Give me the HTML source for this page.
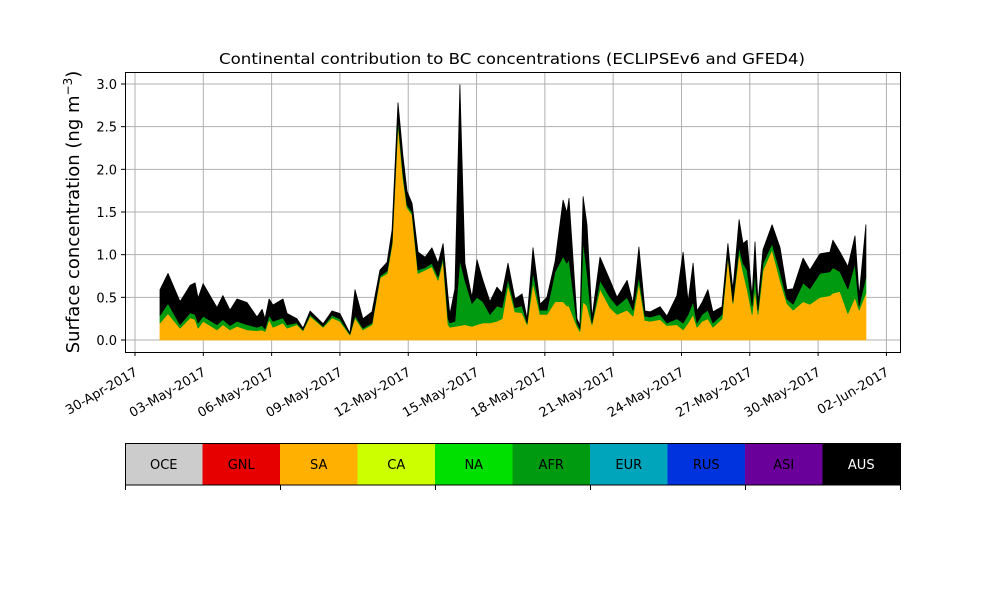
<!DOCTYPE html>
<html><head><meta charset="utf-8"><style>
html,body{margin:0;padding:0;background:#fff;}
svg{display:block;font-family:"DejaVu Sans","Liberation Sans",sans-serif;}
</style></head><body>
<svg id="chart" width="1000" height="600" viewBox="0 0 1000 600" xmlns="http://www.w3.org/2000/svg">
<rect x="0" y="0" width="1000" height="600" fill="#fff"/>
<text x="512" y="64" text-anchor="middle" font-size="15" textLength="586" lengthAdjust="spacingAndGlyphs">Continental contribution to BC concentrations (ECLIPSEv6 and GFED4)</text>
<text transform="translate(79,212) rotate(-90)" text-anchor="middle" font-size="18">Surface concentration (ng m<tspan dy="-7" font-size="12">−3</tspan><tspan dy="7">)</tspan></text>
<g id="grid"></g>
<g id="areas"></g>
<g id="ticks"></g>
<rect x="125.5" y="72.5" width="775" height="280" fill="none" stroke="#000" stroke-width="1"/>
<g id="legend"></g>
</svg>
<script>
const days = [1.10,1.45,1.98,2.42,2.64,2.77,2.99,3.60,3.86,4.17,4.48,4.92,5.36,5.58,5.71,5.89,6.06,6.50,6.68,7.11,7.38,7.69,8.26,8.65,9.00,9.44,9.66,10.01,10.41,10.76,11.07,11.29,11.55,11.77,11.95,12.17,12.43,12.74,13.04,13.31,13.53,13.75,13.83,14.05,14.27,14.49,14.80,15.02,15.28,15.59,15.90,16.12,16.38,16.69,17.00,17.22,17.48,17.79,18.09,18.45,18.80,18.97,19.06,19.41,19.54,19.68,19.85,20.07,20.42,20.86,21.17,21.61,21.87,22.13,22.40,22.62,23.06,23.36,23.80,24.07,24.29,24.51,24.68,24.90,25.16,25.38,25.78,26.04,26.26,26.53,26.70,26.88,27.10,27.23,27.36,27.58,27.98,28.33,28.63,28.90,29.34,29.64,30.08,30.52,30.65,30.96,31.31,31.62,31.80,32.10];
const sa = [.20,.31,.14,.26,.24,.14,.22,.12,.18,.12,.16,.12,.11,.12,.10,.24,.15,.20,.14,.18,.11,.28,.15,.26,.22,.06,.26,.12,.18,.73,.78,1.12,2.54,1.90,1.55,1.47,.78,.82,.86,.70,.94,.18,.15,.16,.17,.18,.16,.18,.20,.20,.22,.25,.65,.33,.32,.18,.67,.30,.30,.45,.45,.40,.40,.16,.10,.45,.40,.18,.60,.38,.30,.35,.28,.67,.23,.22,.24,.17,.18,.12,.20,.30,.15,.22,.25,.15,.25,.98,.43,1.02,.80,.60,.30,.60,.30,.82,1.06,.70,.43,.35,.45,.42,.50,.52,.55,.57,.31,.50,.35,.55];
const afr = [.09,.12,.04,.06,.06,.06,.06,.06,.06,.05,.06,.06,.04,.05,.03,.05,.07,.06,.04,.02,.01,.02,.01,.03,.03,.01,.03,.02,.02,.02,.03,.03,.06,.05,.03,.03,.04,.03,.04,.04,.04,.07,.05,.06,.77,.52,.27,.32,.25,.10,.18,.13,.07,.05,.08,.02,.13,.05,.05,.35,.53,.50,.55,.04,.03,.72,.40,.02,.10,.12,.10,.15,.07,.08,.05,.05,.06,.03,.07,.08,.10,.15,.05,.08,.10,.05,.05,.02,.02,.07,.10,.22,.10,.20,.05,.08,.07,.10,.05,.07,.22,.18,.28,.28,.30,.23,.29,.40,.05,.19];
const aus = [.30,.35,.27,.32,.37,.29,.38,.20,.28,.18,.26,.26,.12,.19,.12,.19,.19,.22,.13,.05,.02,.04,.03,.05,.06,.01,.30,.11,.13,.07,.10,.14,.18,.20,.16,.10,.21,.12,.18,.16,.15,.25,.10,.38,2.05,.20,.07,.44,.25,.15,.22,.17,.18,.10,.14,.05,.28,.07,.15,.12,.66,.59,.71,.05,.04,.51,.55,.06,.27,.20,.10,.20,.08,.34,.06,.06,.09,.08,.27,.83,.15,.45,.14,.14,.24,.13,.09,.13,.14,.32,.23,.35,.10,.35,.09,.16,.22,.28,.11,.18,.29,.22,.23,.23,.32,.23,.26,.32,.12,.61];
const yTicks = [0.0,0.5,1.0,1.5,2.0,2.5,3.0];
const xTickDays = [0,3,6,9,12,15,18,21,24,27,30,33];
const xTickLabels = ["30-Apr-2017","03-May-2017","06-May-2017","09-May-2017","12-May-2017","15-May-2017","18-May-2017","21-May-2017","24-May-2017","27-May-2017","30-May-2017","02-Jun-2017"];
const regions = ["OCE","GNL","SA","CA","NA","AFR","EUR","RUS","ASI","AUS"];
const regionColors = ["#cccccc","#e60000","#ffb000","#ccff00","#00e000","#009a10","#00a5bc","#0033dd","#6a0099","#000000"];

const NS="http://www.w3.org/2000/svg";
function xs(d){return 135+d*22.77;}
function ys(v){return 340-v*85.33;}
function mk(tag,attrs,parent){const e=document.createElementNS(NS,tag);for(const k in attrs)e.setAttribute(k,attrs[k]);parent.appendChild(e);return e;}

const grid=document.getElementById('grid'), ticks=document.getElementById('ticks'), areas=document.getElementById('areas'), legend=document.getElementById('legend');
yTicks.forEach(v=>{
  const l=mk('line',{x1:125,x2:900,y1:ys(v),y2:ys(v),stroke:'#b0b0b0','stroke-width':1},grid);
  
  
  const t=mk('line',{x1:121,x2:125,y1:ys(v),y2:ys(v),stroke:'#000'},ticks);
  
  
  const tx=mk('text',{x:117,y:ys(v)+5,'text-anchor':'end','font-size':13},ticks);
  tx.textContent=v.toFixed(1);
  
  
});
xTickDays.forEach((d,i)=>{
  const x=xs(d);
  const l=mk('line',{x1:x,x2:x,y1:72,y2:352,stroke:'#b0b0b0','stroke-width':1},grid);
  
  
  const t=mk('line',{x1:x,x2:x,y1:352,y2:356,stroke:'#000'},ticks);
  
  
  const tx=mk('text',{transform:`translate(${x-1},${367}) rotate(-30)`,'text-anchor':'end','font-size':13,'dominant-baseline':'hanging'},ticks);
  tx.textContent=xTickLabels[i];
  
  
});
const layers=[{name:'sa-area',vals:sa,color:'#ffb000'},{name:'afr-area',vals:afr,color:'#009a10'},{name:'aus-area',vals:aus,color:'#000000'}];
let base=days.map(()=>0);
layers.forEach(L=>{
  const top=base.map((b,i)=>b+L.vals[i]);
  let d='M'+days.map((t,i)=>xs(t).toFixed(1)+','+ys(top[i]).toFixed(1)).join('L');
  for(let i=days.length-1;i>=0;i--) d+='L'+xs(days[i]).toFixed(1)+','+ys(base[i]).toFixed(1);
  d+='Z';
  const p=mk('path',{d:d,fill:L.color,stroke:L.color,'stroke-width':0.8,'stroke-linejoin':'round'},areas);
  
  
  base=top;
});
const w=77.5;
regions.forEach((r,i)=>{
  const rc=mk('rect',{x:125+i*w,y:443,width:w+0.5,height:42,fill:regionColors[i]},legend);
  
  
  const tx=mk('text',{x:125+i*w+w/2,y:469,'text-anchor':'middle','font-size':13,fill:r==='AUS'?'#fff':'#000'},legend);
  tx.textContent=r;
  
  
});
const fr=mk('rect',{x:125.5,y:443.5,width:775,height:41.5,fill:'none',stroke:'#000','stroke-width':1},legend);


[0,2,4,6,8,10].forEach(k=>{
  const t=mk('line',{x1:125.5+k*w,x2:125.5+k*w,y1:485,y2:490,stroke:'#000'},legend);
  
  
});
</script>
</body></html>
